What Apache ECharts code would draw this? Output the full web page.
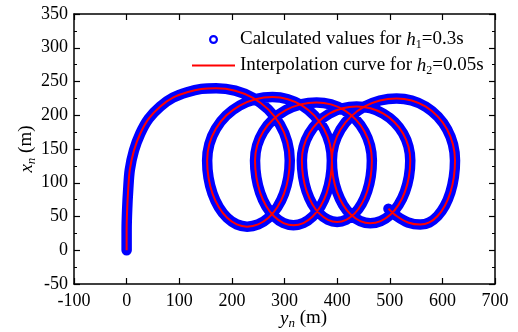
<!DOCTYPE html>
<html>
<head>
<meta charset="utf-8">
<script src="https://cdn.jsdelivr.net/npm/echarts@6/dist/echarts.min.js"></script>
<style>
  html, body { margin: 0; padding: 0; background: #fff; }
  #chart { width: 518px; height: 332px; }
</style>
</head>
<body>
<div id="chart"></div>
<script>
// trajectory: horizontal y_n (m), vertical x_n (m)
const ynValues = [
  0, 0, 1, 3, 6, 14, 26, 42, 64, 88, 115, 142, 170,
  206.3, 240, 269, 291.2, 305.2, 310,
  307.2, 299.1, 286.3, 269.5, 250, 229,
  209.3, 191, 175.3, 163.2, 155.6, 153,
  157.2, 169.6, 189.3, 215, 244.9, 277,
  306.3, 333.5, 356.9, 374.9, 386.2, 390,
  387.5, 380.2, 368.6, 353.5, 335.9, 317,
  298.1, 280.5, 265.4, 253.8, 246.5, 244,
  248, 259.7, 278.3, 302.5, 330.7, 361,
  388.2, 413.5, 435.2, 451.9, 462.4, 466,
  463.8, 457.2, 446.7, 433, 417.1, 400,
  382.6, 366.5, 352.6, 342, 335.3, 333,
  336.5, 346.9, 363.5, 385, 410.1, 437,
  463.4, 488, 509.1, 525.3, 535.5, 539,
  536.4, 528.8, 516.7, 501, 482.7, 463,
  444.1, 426.5, 411.4, 399.8, 392.5, 390,
  394.2, 406.5, 426, 451.5, 481.2, 513,
  541.7, 568.5, 591.5, 609.1, 620.2, 624,
  621.8, 615.2, 604.7, 591, 575.1, 558,
  534.7, 513, 497.5
];
const xnValues = [
  0, 30, 60, 90, 119, 148, 173, 195, 213, 226, 234, 239, 240,
  236.4, 225.7, 208.7, 186.5, 160.7, 133,
  107.6, 84, 63.7, 48.1, 38.3, 35,
  38.3, 48.1, 63.7, 84, 107.6, 133,
  157.3, 180, 199.5, 214.4, 223.8, 227,
  223.8, 214.4, 199.5, 180, 157.3, 133,
  108.2, 85, 65.1, 49.9, 40.3, 37,
  40.3, 49.9, 65.1, 85, 108.2, 133,
  155.3, 176, 193.8, 207.5, 216.1, 219,
  216.1, 207.5, 193.8, 176, 155.3, 133,
  109.4, 87.5, 68.7, 54.2, 45.1, 42,
  45.1, 54.2, 68.7, 87.5, 109.4, 133,
  153.7, 173, 189.6, 202.3, 210.3, 213,
  210.3, 202.3, 189.6, 173, 153.7, 133,
  108.9, 86.5, 67.2, 52.5, 43.2, 40,
  43.2, 52.5, 67.2, 86.5, 108.9, 133,
  156.8, 179, 198, 212.7, 221.9, 225,
  221.9, 212.7, 198, 179, 156.8, 133,
  108.4, 85.5, 65.8, 50.7, 41.2, 38,
  41.2, 50.7, 61.5
];
const ynTicks = [-100, 0, 100, 200, 300, 400, 500, 600, 700];
const xnTicks = [-50, 0, 50, 100, 150, 200, 250, 300, 350];

const calcName = 'Calculated values for h1=0.3s';
const interpName = 'Interpolation curve for h2=0.05s';

const points = ynValues.map((v, i) => [v, xnValues[i]]);
const FONT = 'Liberation Serif';

const rich = {
  n: { fontFamily: FONT, fontSize: 19, color: '#000', lineHeight: 23 },
  i: { fontFamily: FONT, fontSize: 19, fontStyle: 'italic', color: '#000', lineHeight: 23 },
  s: { fontFamily: FONT, fontSize: 12, color: '#000', lineHeight: 12, verticalAlign: 'bottom' },
  si: { fontFamily: FONT, fontSize: 13, fontStyle: 'italic', color: '#000', lineHeight: 13, verticalAlign: 'bottom' }
};

const chart = echarts.init(document.getElementById('chart'));

const axisLine = { show: true, onZero: false, lineStyle: { color: '#000', width: 1.5 } };
const tickIn = { show: true, inside: true, length: 6, lineStyle: { color: '#000', width: 1.2 } };
const minorIn = { show: true, splitNumber: 2, length: 3, lineStyle: { color: '#000', width: 1 } };

// legend icons: hollow ring for the computed points, short bar for the curve
const ringIcon = 'path://M0,5A5,5 0 1,0 10,5A5,5 0 1,0 0,5Z M2.4,5A2.6,2.6 0 1,1 7.6,5A2.6,2.6 0 1,1 2.4,5Z';
const barIcon = 'path://M0,0H43V2.2H0Z';

const option = {
  animation: false,
  grid: { left: 74, right: 23, top: 14, bottom: 48, outerBoundsMode: 'none' },
  legend: {
    orient: 'vertical',
    left: 187,
    top: 25,
    itemWidth: 43,
    itemHeight: 9,
    itemGap: 5,
    data: [
      { name: calcName, icon: ringIcon },
      { name: interpName, icon: barIcon }
    ],
    formatter: function (name) {
      if (name === calcName) return '{n|Calculated values for }{i|h}{s|1}{n|=0.3s}';
      return '{n|Interpolation curve for }{i|h}{s|2}{n|=0.05s}';
    },
    textStyle: { fontFamily: FONT, fontSize: 19, color: '#000', rich: rich }
  },
  xAxis: [
    {
      type: 'value',
      position: 'bottom',
      min: ynTicks[0],
      max: ynTicks[ynTicks.length - 1],
      interval: ynTicks[1] - ynTicks[0],
      axisLine: axisLine,
      axisTick: tickIn,
      splitLine: { show: false },
      axisLabel: { fontFamily: FONT, fontSize: 18, color: '#000', margin: 8 },
      name: '{i|y}{si|n}{n| (m)}',
      nameLocation: 'middle',
      nameGap: 23,
      nameMoveOverlap: false,
      nameTextStyle: { rich: rich, padding: [0, 0, 0, 38] }
    },
    {
      type: 'value',
      position: 'top',
      min: ynTicks[0],
      max: ynTicks[ynTicks.length - 1],
      interval: ynTicks[1] - ynTicks[0],
      axisLine: axisLine,
      axisTick: tickIn,
      splitLine: { show: false },
      axisLabel: { show: false }
    }
  ],
  yAxis: [
    {
      type: 'value',
      position: 'left',
      min: xnTicks[0],
      max: xnTicks[xnTicks.length - 1],
      interval: xnTicks[1] - xnTicks[0],
      axisLine: axisLine,
      axisTick: tickIn,
      minorTick: minorIn,
      splitLine: { show: false },
      axisLabel: { fontFamily: FONT, fontSize: 18, color: '#000', margin: 6 },
      name: '{i|x}{si|n}{n| (m)}',
      nameLocation: 'middle',
      nameGap: 36,
      nameMoveOverlap: false,
      nameTextStyle: { rich: rich }
    },
    {
      type: 'value',
      position: 'right',
      min: xnTicks[0],
      max: xnTicks[xnTicks.length - 1],
      interval: xnTicks[1] - xnTicks[0],
      axisLine: axisLine,
      axisTick: tickIn,
      minorTick: minorIn,
      splitLine: { show: false },
      axisLabel: { show: false }
    }
  ],
  series: [
    {
      name: calcName,
      type: 'line',
      data: points,
      smooth: 0.3,
      showSymbol: false,
      itemStyle: { color: '#0000ff' },
      lineStyle: { color: '#0000ff', width: 10.5, cap: 'round', join: 'round' },
      z: 2
    },
    {
      name: interpName,
      type: 'line',
      data: points,
      smooth: 0.3,
      showSymbol: false,
      symbol: 'none',
      itemStyle: { color: '#ff0000' },
      lineStyle: { color: '#ff0000', width: 2 },
      z: 3
    }
  ]
};

chart.setOption(option);
</script>
</body>
</html>
